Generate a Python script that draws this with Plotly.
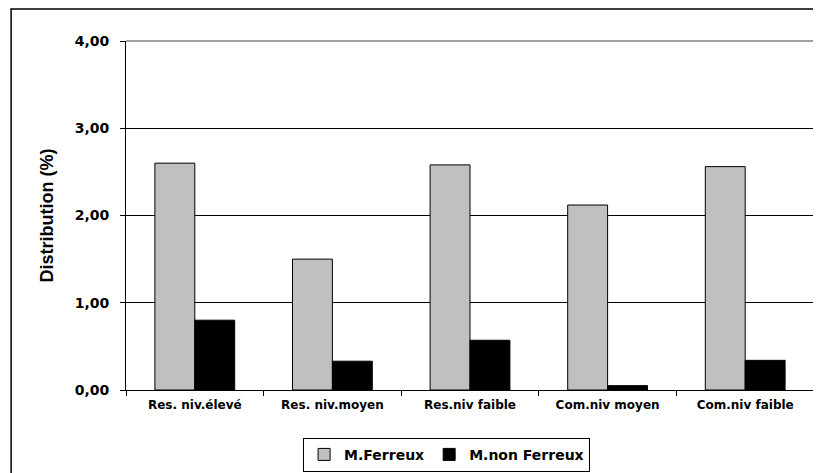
import plotly.graph_objects as go

categories = ["Res. niv.élevé", "Res. niv.moyen", "Res.niv faible", "Com.niv moyen", "Com.niv faible"]
ferreux = [2.60, 1.50, 2.58, 2.12, 2.56]
non_ferreux = [0.80, 0.33, 0.57, 0.05, 0.34]
y_ticks = [0, 1, 2, 3, 4]

fig = go.Figure()
fig.add_trace(go.Bar(x=categories, y=ferreux, name="M.Ferreux",
                     marker=dict(color="#c0c0c0", line=dict(color="#000000", width=1))))
fig.add_trace(go.Bar(x=categories, y=non_ferreux, name="M.non Ferreux",
                     marker=dict(color="#000000", line=dict(color="#000000", width=1))))

# outer frame of the chart (page body has an 8px margin, so figure is 8px smaller)
fig.add_shape(type="rect", xref="paper", yref="paper",
              x0=-0.167, y0=-0.26, x1=1.03, y1=1.0915,
              line=dict(color="#000000", width=1.5), layer="above")
# gray border top/right of plot area
fig.add_shape(type="line", xref="paper", yref="paper", x0=0, y0=1, x1=1, y1=1,
              line=dict(color="#808080", width=1.5))
fig.add_shape(type="line", xref="paper", yref="paper", x0=1, y0=0, x1=1, y1=1,
              line=dict(color="#808080", width=1.5))

fig.update_layout(
    width=813, height=465,
    margin=dict(l=118, r=7, t=33, b=83, autoexpand=False),
    paper_bgcolor="white", plot_bgcolor="white",
    barmode="group", bargap=0.42, bargroupgap=0,
    separators=", ",
    font=dict(family="DejaVu Sans, Arial", color="#000000"),
    showlegend=True,
    legend=dict(orientation="h", x=0.466, xanchor="center", y=-0.137, yanchor="top",
                bordercolor="#000000", borderwidth=1,
                font=dict(size=14, weight="bold"),
                itemwidth=30, traceorder="normal"),
)
fig.update_xaxes(showline=True, linecolor="#000000", linewidth=1,
                 ticks="outside", ticklen=5, tickcolor="#000000", tickson="boundaries",
                 ticklabelstandoff=4,
                 tickfont=dict(size=12, weight="bold"), showgrid=False)
fig.update_yaxes(range=[0, 4], tickvals=y_ticks, tickformat=".2f",
                 showline=True, linecolor="#000000", linewidth=1,
                 ticks="outside", ticklen=5, tickcolor="#000000",
                 ticklabelstandoff=8,
                 showgrid=True, gridcolor="#000000", gridwidth=1,
                 tickfont=dict(size=14, weight="bold"),
                 title=dict(text="Distribution (%)", font=dict(family="Arial, Liberation Sans", size=18, weight="bold"),
                            standoff=16))

fig.write_html("out.html")
